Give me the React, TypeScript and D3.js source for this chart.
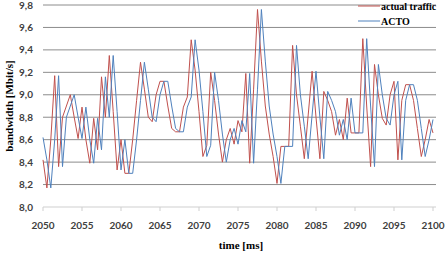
import React from "react";
import * as d3 from "d3";

// time axis: samples every 0.5 ms from 2050 to 2100
const times: number[] = d3.range(0, 101).map((i) => 2050 + i * 0.5);

const actualTraffic: number[] = [
  8.42, 8.17, 8.6, 9.17, 8.36, 8.8, 8.9, 9.0, 8.8, 8.61,
  8.89, 8.6, 8.39, 8.79, 8.51, 9.16, 8.8, 9.35, 8.85, 8.33,
  8.6, 8.3, 8.3, 8.6, 8.95, 9.29, 9.05, 8.8, 8.76, 9.0,
  9.12, 9.12, 8.9, 8.7, 8.67, 8.67, 8.89, 8.98, 9.49, 9.22,
  8.85, 8.45, 8.55, 9.2, 8.95, 8.65, 8.4, 8.6, 8.7, 8.56,
  8.77, 8.67, 9.19, 8.39, 9.05, 9.76, 9.3, 8.9, 8.65, 8.45,
  8.21, 8.54, 8.54, 8.54, 9.44, 9.0, 8.72, 8.43, 8.82, 9.21,
  8.8, 8.43, 9.03, 8.95, 8.85, 8.64, 8.78, 8.6, 8.97, 8.66,
  8.66, 8.66, 9.5, 8.9, 8.36, 9.27, 9.0, 8.79, 8.73, 9.0,
  9.12, 8.42, 8.95, 9.09, 9.09, 8.95, 8.7, 8.45, 8.6, 8.78,
  8.66,
];

const acto: number[] = [
  8.62, 8.42, 8.17, 8.6, 9.17, 8.36, 8.8, 8.9, 9.0, 8.8,
  8.61, 8.89, 8.6, 8.39, 8.79, 8.51, 9.16, 8.8, 9.35, 8.85,
  8.33, 8.6, 8.3, 8.3, 8.6, 8.95, 9.29, 9.05, 8.8, 8.76,
  9.0, 9.12, 9.12, 8.9, 8.7, 8.67, 8.67, 8.89, 8.98, 9.49,
  9.22, 8.85, 8.45, 8.55, 9.2, 8.95, 8.65, 8.4, 8.6, 8.7,
  8.56, 8.77, 8.67, 9.19, 8.39, 9.05, 9.76, 9.3, 8.9, 8.65,
  8.45, 8.21, 8.54, 8.54, 8.54, 9.44, 9.0, 8.72, 8.43, 8.82,
  9.21, 8.8, 8.43, 9.03, 8.95, 8.85, 8.64, 8.78, 8.6, 8.97,
  8.66, 8.66, 8.66, 9.5, 8.9, 8.36, 9.27, 9.0, 8.79, 8.73,
  9.0, 9.12, 8.42, 8.95, 9.09, 9.09, 8.95, 8.7, 8.45, 8.6,
  8.78,
];

const xTicks: number[] = [2050, 2055, 2060, 2065, 2070, 2075, 2080, 2085, 2090, 2095, 2100];
const yTicks: number[] = [8.0, 8.2, 8.4, 8.6, 8.8, 9.0, 9.2, 9.4, 9.6, 9.8];

const RED = "#c0504d";
const BLUE = "#4f81bd";

export default function App() {
  const width = 447;
  const height = 254;
  const margin = { top: 5, left: 43, bottom: 47, right: 14 };

  const x = d3.scaleLinear().domain([2050, 2100]).range([margin.left, width - margin.right]);
  const y = d3.scaleLinear().domain([8.0, 9.8]).range([height - margin.bottom, margin.top]);

  const line = (vals: number[]) =>
    d3
      .line<number>()
      .x((_, i) => x(times[i]))
      .y((d) => y(d))(vals) || "";

  const fmt = (v: number) => v.toFixed(1).replace(".", ",");
  const gridRight = width - margin.right + 3;
  const tickFont = "Lato, 'Open Sans', sans-serif";
  const serif = "'Liberation Serif', 'Times New Roman', serif";

  return (
    <svg
      width={width}
      height={height}
      style={{ position: "absolute", left: 0, top: 0, background: "#fff" }}
    >
      {yTicks.map((t) => (
        <g key={"y" + t}>
          <line
            x1={margin.left}
            x2={gridRight}
            y1={y(t)}
            y2={y(t)}
            stroke={t === 8.0 ? "#cfcfcf" : "#8c8c8c"}
            strokeWidth={1}
          />
          <text
            x={33}
            y={y(t)}
            dy="0.35em"
            textAnchor="end"
            fontFamily={tickFont}
            fontWeight="bold"
            fontSize={10}
            fill="#404040"
          >
            {fmt(t)}
          </text>
        </g>
      ))}

      {xTicks.map((t) => (
        <g key={"x" + t}>
          <line x1={x(t)} x2={x(t)} y1={y(8.0)} y2={y(8.0) + 4} stroke="#cfcfcf" />
          <text
            x={x(t)}
            y={229}
            textAnchor="middle"
            fontFamily={tickFont}
            fontWeight="bold"
            fontSize={10}
            fill="#404040"
          >
            {t}
          </text>
        </g>
      ))}

      <path d={line(actualTraffic)} fill="none" stroke={RED} strokeWidth={1} />
      <path d={line(acto)} fill="none" stroke={BLUE} strokeWidth={1} />

      <text
        x={241}
        y={249}
        textAnchor="middle"
        fontFamily={serif}
        fontWeight="bold"
        fontSize={11}
        fill="#000"
      >
        time [ms]
      </text>
      <text
        transform={`translate(13,106) rotate(-90)`}
        textAnchor="middle"
        fontFamily={serif}
        fontWeight="bold"
        fontSize={11}
        fill="#000"
      >
        bandwidth [Mbit/s]
      </text>

      <line x1={358} x2={380} y1={6} y2={6} stroke={RED} strokeWidth={1} />
      <text x={381} y={9.5} fontFamily={serif} fontWeight="bold" fontSize={10} fill="#000">
        actual traffic
      </text>
      <line x1={358} x2={380} y1={21} y2={21} stroke={BLUE} strokeWidth={1} />
      <text x={381} y={24.5} fontFamily={serif} fontWeight="bold" fontSize={10} fill="#000">
        ACTO
      </text>
    </svg>
  );
}
